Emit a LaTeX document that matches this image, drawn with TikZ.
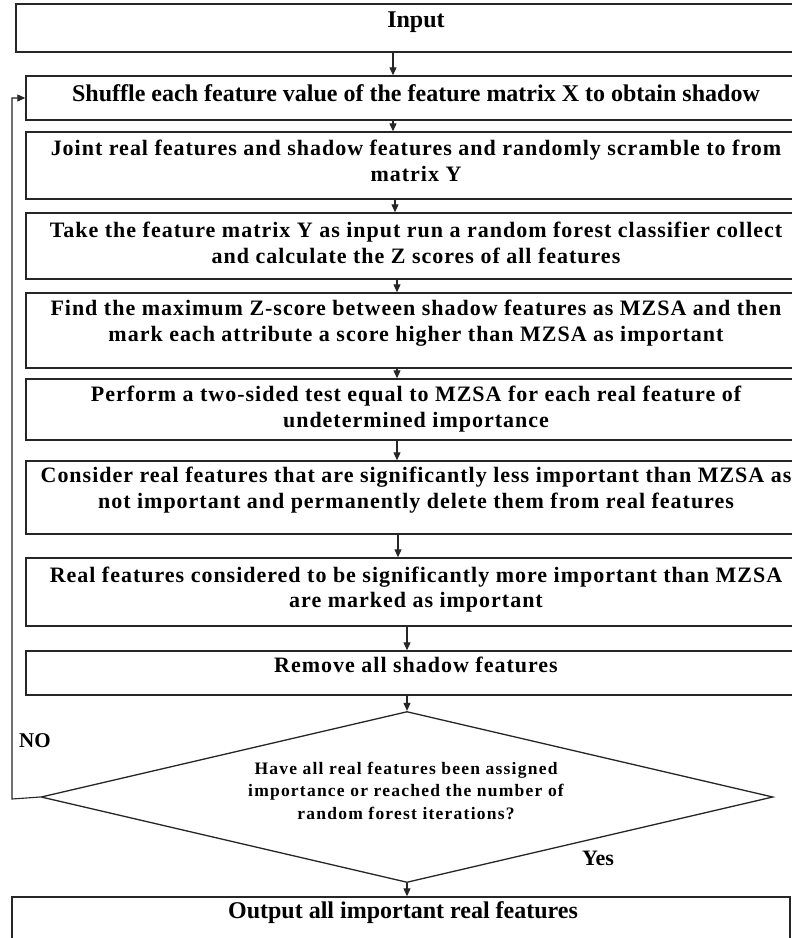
\documentclass[tikz,border=0pt]{standalone}
\usepackage{fontspec}
\setmainfont{Liberation Serif}
\newfontfamily\stepfont[LetterSpace=4.5]{Liberation Serif}
\newfontfamily\askfont[LetterSpace=7]{Liberation Serif}
\usetikzlibrary{shapes.geometric,arrows.meta}

\begin{document}
\begin{tikzpicture}[x=1pt,y=-1pt,
  frame/.style={draw=black!85, line width=1.4pt, rectangle, inner sep=0pt, minimum width=780},
  plain/.style={font=\fontsize{24}{28}\selectfont\bfseries, inner sep=0pt},
  steptext/.style={font=\fontsize{22}{25.5}\selectfont\stepfont\bfseries, align=center, inner sep=0pt},
  asktext/.style={font=\fontsize{17.5}{22.5}\selectfont\askfont\bfseries, align=center, inner sep=0pt},
  arr/.style={draw=black!85, line width=1.1pt, -{Triangle[length=8pt,width=7pt]}}
]
\useasboundingbox (0,0) rectangle (792,938);
\clip (0,0) rectangle (792,938);
\fill[white] (0,0) rectangle (792,938);

% process boxes
\node[frame, minimum width=800, minimum height=48] (input) at (416,28) {};
\node[plain] (inputtxt) at (416,22) {Input};

\node[frame, minimum height=44] (shuffle) at (416,98) {};
\node[plain] (shuffletxt) at (416,93) {Shuffle each feature value of the feature matrix X to obtain shadow};

\node[frame, minimum height=67] (joint) at (416,165.5) {};
\node[steptext] (jointtxt) at (416,161) {Joint real features and shadow features and randomly scramble to from\\matrix Y};

\node[frame, minimum height=66] (take) at (416,246) {};
\node[steptext] (taketxt) at (416,243) {Take the feature matrix Y as input run a random forest classifier collect\\and calculate the Z scores of all features};

\node[frame, minimum height=75] (find) at (416,330.5) {};
\node[steptext] (findtxt) at (416,323) {Find the maximum Z-score between shadow features as MZSA and then\\mark each attribute a score higher than MZSA as important};

\node[frame, minimum height=61] (perform) at (416,409.5) {};
\node[steptext] (performtxt) at (416,409) {Perform a two-sided test equal to MZSA for each real feature of\\undetermined importance};

\node[frame, minimum height=73] (consider) at (416,497.5) {};
\node[steptext] (considertxt) at (416,490) {Consider real features that are significantly less important than MZSA as\\not important and permanently delete them from real features};

\node[frame, minimum height=68] (real) at (416,592) {};
\node[steptext] (realtxt) at (416,589.5) {Real features considered to be significantly more important than MZSA\\are marked as important};

\node[frame, minimum height=44] (remove) at (416,673) {};
\node[steptext] (removetxt) at (416,665) {Remove all shadow features};

% decision
\node[diamond, draw=black!85, line width=1.3pt, inner sep=0pt, minimum width=732, minimum height=171] (decide) at (407,797) {};
\node[asktext] (decidetxt) at (406,790.5) {Have all real features been assigned\\importance or reached the number of\\random forest iterations?};

\node[frame, minimum width=778, minimum height=49] (output) at (401,921.5) {};
\node[plain] (outputtxt) at (403,913) {Output all important real features};

% branch labels
\node[plain, font=\fontsize{21}{25}\selectfont\bfseries] (no) at (35,741) {NO};
\node[plain, font=\fontsize{22}{26}\selectfont\bfseries] (yes) at (598,858) {Yes};

% vertical guides for the arrows
\coordinate (c1) at (393,0);
\coordinate (c2) at (395,0);
\coordinate (c3) at (397,0);
\coordinate (c4) at (398,0);
\coordinate (c5) at (407,0);

\draw[arr] (input.south -| c1) -- (shuffle.north -| c1);
\draw[arr] (shuffle.south -| c1) -- (joint.north -| c1);
\draw[arr] (joint.south -| c2) -- (take.north -| c2);
\draw[arr] (take.south -| c3) -- (find.north -| c3);
\draw[arr] (find.south -| c3) -- (perform.north -| c3);
\draw[arr] (perform.south -| c3) -- (consider.north -| c3);
\draw[arr] (consider.south -| c4) -- (real.north -| c4);
\draw[arr] (real.south -| c5) -- (remove.north -| c5);
\draw[arr] (remove.south -| decide.north) -- (decide.north);
\draw[arr] (decide.south) -- (output.north -| decide.south);

% feedback loop
\coordinate (loop) at (12,799);
\draw[arr] (decide.west) -- (loop) |- (shuffle.west);
\end{tikzpicture}
\end{document}
